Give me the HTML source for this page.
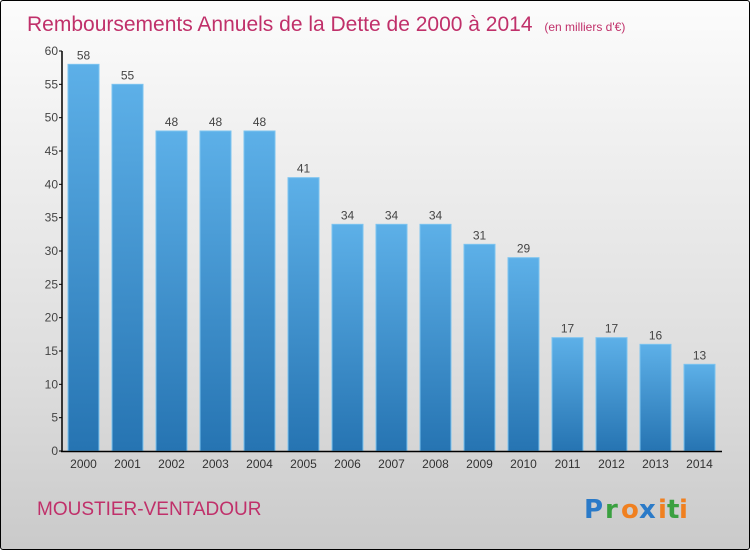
<!DOCTYPE html>
<html><head><meta charset="utf-8"><style>
body{margin:0;width:750px;height:550px;overflow:hidden;font-family:"Liberation Sans",sans-serif}
#frame{position:absolute;left:0;top:0;width:748px;height:548px;border:1px solid #000;border-radius:3px;background:linear-gradient(#fcfcfc,#f0f0f0 25%,#dcdcdc 70%,#cacaca)}
</style></head><body>
<div id="frame">
<svg width="750" height="550">
<defs><linearGradient id="bg" x1="0" y1="0" x2="0" y2="1"><stop offset="0" stop-color="#5db0e8"/><stop offset="1" stop-color="#2674b2"/></linearGradient></defs>
<text x="26" y="30" font-size="21" fill="#c0306a">Remboursements Annuels de la Dette de 2000 à 2014 <tspan font-size="12" dx="6">(en milliers d'€)</tspan></text>
<g id="bars"></g>
<g id="axes"></g>
<text x="36" y="514" font-size="19" fill="#c0306a">MOUSTIER-VENTADOUR</text>
<g font-size="26" font-weight="bold" font-family="'DejaVu Sans',sans-serif">
<text x="583" y="517" fill="#2a7ac8">P</text><text x="604" y="517" fill="#3aa040">r</text><text x="620" y="517" fill="#f08020">o</text><text x="638" y="517" fill="#2a7ac8">x</text><text x="657" y="517" fill="#f08020">i</text><text x="666" y="517" fill="#3aa040">t</text><text x="678" y="517" fill="#f08020">i</text>
</g>
</svg></div>
<script>
const years=["2000","2001","2002","2003","2004","2005","2006","2007","2008","2009","2010","2011","2012","2013","2014"];
const values=[58,55,48,48,48,41,34,34,34,31,29,17,17,16,13];
const yTicks=[0,5,10,15,20,25,30,35,40,45,50,55,60];
const NS="http://www.w3.org/2000/svg";
const y=v=>450-v*400/60;
const x=i=>82.5+i*44;
function mk(t,a,p){const e=document.createElementNS(NS,t);for(const k in a)e.setAttribute(k,a[k]);p.appendChild(e);return e;}
const bars=document.getElementById('bars'),axes=document.getElementById('axes');
values.forEach((v,i)=>{
 const r=mk('rect',{x:x(i)-15.5,y:y(v),width:31,height:450-y(v),fill:'url(#bg)',stroke:'#7cc4f0','stroke-width':1},bars);
 
 
 const t=mk('text',{x:x(i),y:y(v)-5,'text-anchor':'middle','font-size':12,fill:'#444'},bars);t.textContent=v;
 
 
 const l=mk('text',{x:x(i),y:467,'text-anchor':'middle','font-size':12,fill:'#333'},axes);l.textContent=years[i];
 
 
});
const ya=mk('line',{x1:61,y1:50,x2:61,y2:451,stroke:'#000','stroke-width':1.5},axes);


const xa=mk('line',{x1:60,y1:450.5,x2:721,y2:450.5,stroke:'#000','stroke-width':1.5},axes);


yTicks.forEach(v=>{
 mk('line',{x1:58,y1:y(v),x2:61,y2:y(v),stroke:'#000'},axes);
 const t=mk('text',{x:57,y:y(v)+4,'text-anchor':'end','font-size':12,fill:'#444'},axes);t.textContent=v;
 
 
});
</script>
</body></html>
